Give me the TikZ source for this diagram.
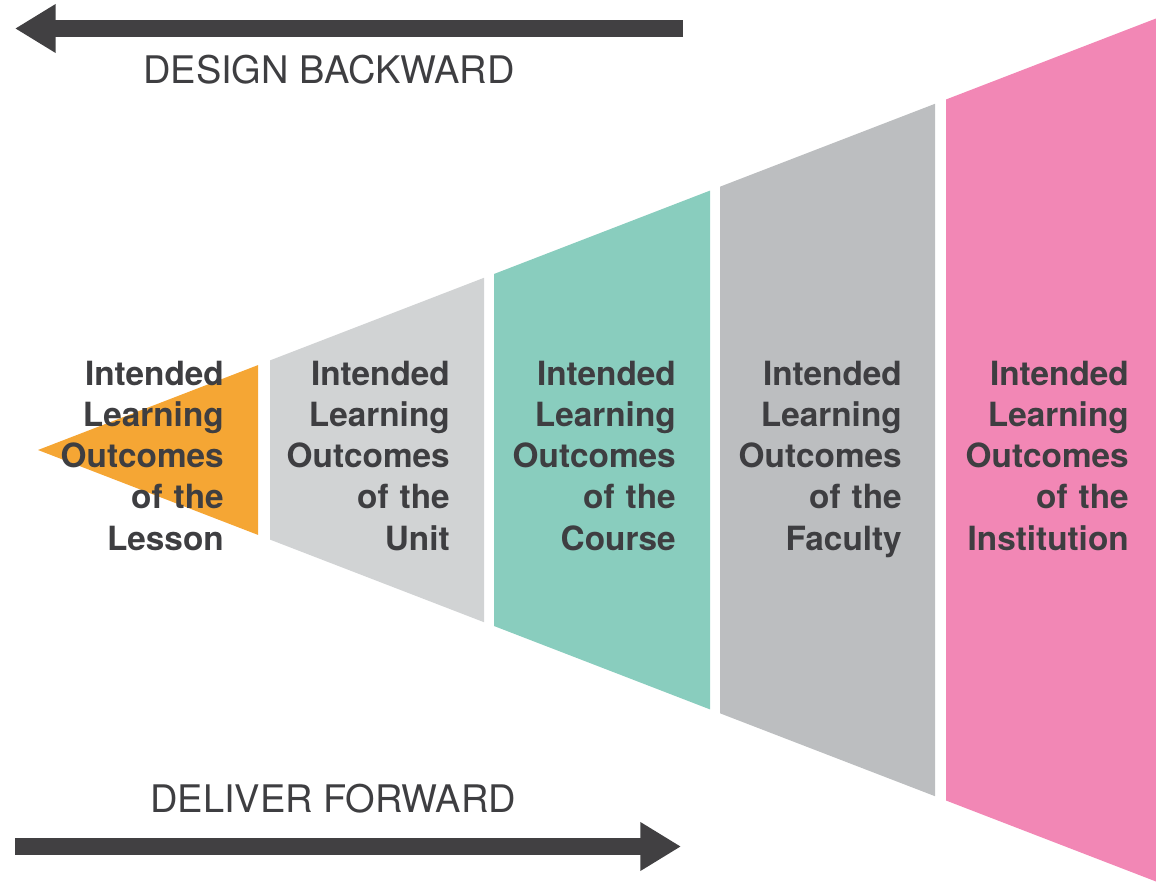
\documentclass[tikz,border=0pt]{standalone}
\usepackage{fontspec}
\setmainfont{TeX Gyre Heros}
\usetikzlibrary{arrows.meta}
\definecolor{cOrange}{HTML}{F5A634}
\definecolor{cLight}{HTML}{D1D3D4}
\definecolor{cTeal}{HTML}{89CDBE}
\definecolor{cGray}{HTML}{BCBEC0}
\definecolor{cPink}{HTML}{F287B5}
\definecolor{cText}{HTML}{3E3E41}
\definecolor{cArrow}{HTML}{414042}
\tikzset{
  seg/.style={draw=none},
  lbl/.style={font=\bfseries\fontsize{25}{30.94}\selectfont, text=cText, text width=150pt, align=right, anchor=base east, inner sep=0pt},
  head/.style={font=\fontsize{28.5}{34}\selectfont, text=cText, anchor=base west, inner sep=0pt},
  bigarrow/.style={draw=cArrow, line width=12.75pt, line cap=butt, -{Triangle[length=30.5pt, width=34.5pt]}}
}
\begin{document}
\begin{tikzpicture}[x=0.75pt, y=-0.75pt]
\useasboundingbox (0,0) rectangle (1156,884);
% segments
\fill[cOrange] (38,450) -- (258,365.1) -- (258,534.9) -- cycle;
\fill[cLight] (270,360.4) -- (484,277.8) -- (484,622.2) -- (270,539.6) -- cycle;
\fill[cTeal] (494,274.0) -- (710,190.6) -- (710,709.4) -- (494,626.0) -- cycle;
\fill[cGray] (720,186.7) -- (935,103.8) -- (935,796.2) -- (720,713.3) -- cycle;
\fill[cPink] (946,99.5) -- (1156,18.5) -- (1156,881.5) -- (946,800.5) -- cycle;
% labels
\node[lbl] (lesson) at (224,385) {Intended\\Learning\\Outcomes\\of the\\Lesson};
\node[lbl] (unit) at (450,385) {Intended\\Learning\\Outcomes\\of the\\Unit};
\node[lbl] (course) at (676,385) {Intended\\Learning\\Outcomes\\of the\\Course};
\node[lbl] (faculty) at (902,385) {Intended\\Learning\\Outcomes\\of the\\Faculty};
\node[lbl] (inst) at (1129,385) {Intended\\Learning\\Outcomes\\of the\\Institution};
% arrows
\coordinate (dbS) at (683,28.5);
\coordinate (dbE) at (15,28.5);
\draw[bigarrow] (dbS) -- (dbE);
\node[head] (design) at (143,84) {DESIGN BACKWARD};
\coordinate (dfS) at (15,846.5);
\coordinate (dfE) at (681,846.5);
\draw[bigarrow] (dfS) -- (dfE);
\node[head] (deliver) at (150,812) {DELIVER FORWARD};
\end{tikzpicture}
\end{document}
